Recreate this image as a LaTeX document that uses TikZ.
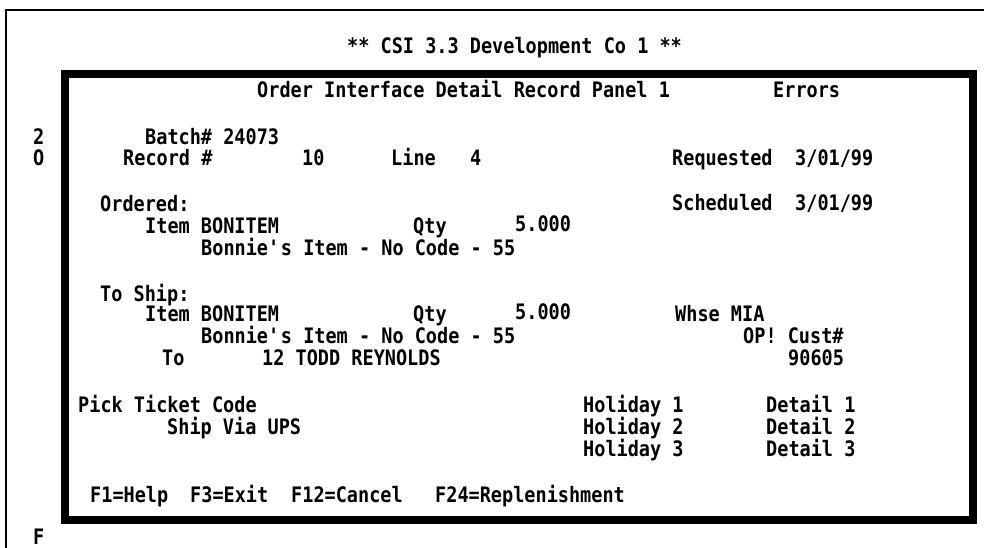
\documentclass[tikz,border=0pt]{standalone}
\usepackage{fontspec}
\newfontfamily\scrfont[FakeStretch=0.87]{DejaVu Sans Mono}

\begin{document}
\begin{tikzpicture}[
  x=1pt, y=-1pt,
  txt/.style={anchor=base west, inner sep=0pt, font=\scrfont\bfseries\fontsize{21.3}{22}\selectfont},
  outer/.style={draw=black, line width=2pt},
  panel/.style={draw=black, line width=8pt},
]
\useasboundingbox (0,0) rectangle (984,548);

% ---------------------------------------------------------------- frames
\draw[outer] (984,10) -- (6,10) -- (6,548);
\draw[panel] (65,74.5) rectangle (973,519.5);

% ---------------------------------------------------------------- heading
\node[txt] (title)   at (347,54) {** CSI 3.3 Development Co 1 **};
\node[txt] (panelhd) at (257,98) {Order Interface Detail Record Panel 1};
\node[txt] (errors)  at (773,98) {Errors};

% ---------------------------------------------------------------- left margin
\node[txt] (side2) at (33,145) {2};
\node[txt] (sideO) at (33,165) {O};
\node[txt] (sideF) at (33,544) {F};

% ---------------------------------------------------------------- record
\node[txt] (batch)     at (145,145) {Batch\# 24073};
\node[txt] (record)    at (123,165) {Record \#};
\node[txt] (recno)     at (302,165) {10};
\node[txt] (linelbl)   at (391,165) {Line};
\node[txt] (lineno)    at (470,165) {4};
\node[txt] (reqlbl)    at (672,165) {Requested};
\node[txt] (reqdate)   at (795,165) {3/01/99};
\node[txt] (schedlbl)  at (672,210) {Scheduled};
\node[txt] (scheddate) at (795,210) {3/01/99};

% ---------------------------------------------------------------- ordered
\node[txt] (ordered)   at (100,211) {Ordered:};
\node[txt] (orditem)   at (145,233) {Item BONITEM};
\node[txt] (ordqtylbl) at (413,233) {Qty};
\node[txt] (ordqty)    at (515,231) {5.000};
\node[txt] (orddesc)   at (201,255) {Bonnie\textquotesingle s Item - No Code - 55};

% ---------------------------------------------------------------- to ship
\node[txt] (toship)     at (100,301) {To Ship:};
\node[txt] (shipitem)   at (145,321) {Item BONITEM};
\node[txt] (shipqtylbl) at (413,321) {Qty};
\node[txt] (shipqty)    at (515,319) {5.000};
\node[txt] (whse)       at (675,321) {Whse MIA};
\node[txt] (shipdesc)   at (201,343) {Bonnie\textquotesingle s Item - No Code - 55};
\node[txt] (custlbl)    at (743,343) {OP! Cust\#};
\node[txt] (tolbl)      at (162,365) {To};
\node[txt] (toname)     at (262,365) {12 TODD REYNOLDS};
\node[txt] (custno)     at (788,365) {90605};

% ---------------------------------------------------------------- bottom
\node[txt] (pick)    at (78,412)  {Pick Ticket Code};
\node[txt] (shipvia) at (167,434) {Ship Via UPS};
\foreach \i in {1,2,3}{
  \node[txt] (hol\i) at (583,{412+22*(\i-1)}) {Holiday \i};
  \node[txt] (det\i) at (766,{412+22*(\i-1)}) {Detail \i};
}

% ---------------------------------------------------------------- keys
\foreach \x/\k/\lbl in {90/help/F1=Help, 190/exit/F3=Exit, 291/cancel/F12=Cancel, 435/repl/F24=Replenishment}{
  \node[txt] (key\k) at (\x,502) {\lbl};
}

\end{tikzpicture}
\end{document}
